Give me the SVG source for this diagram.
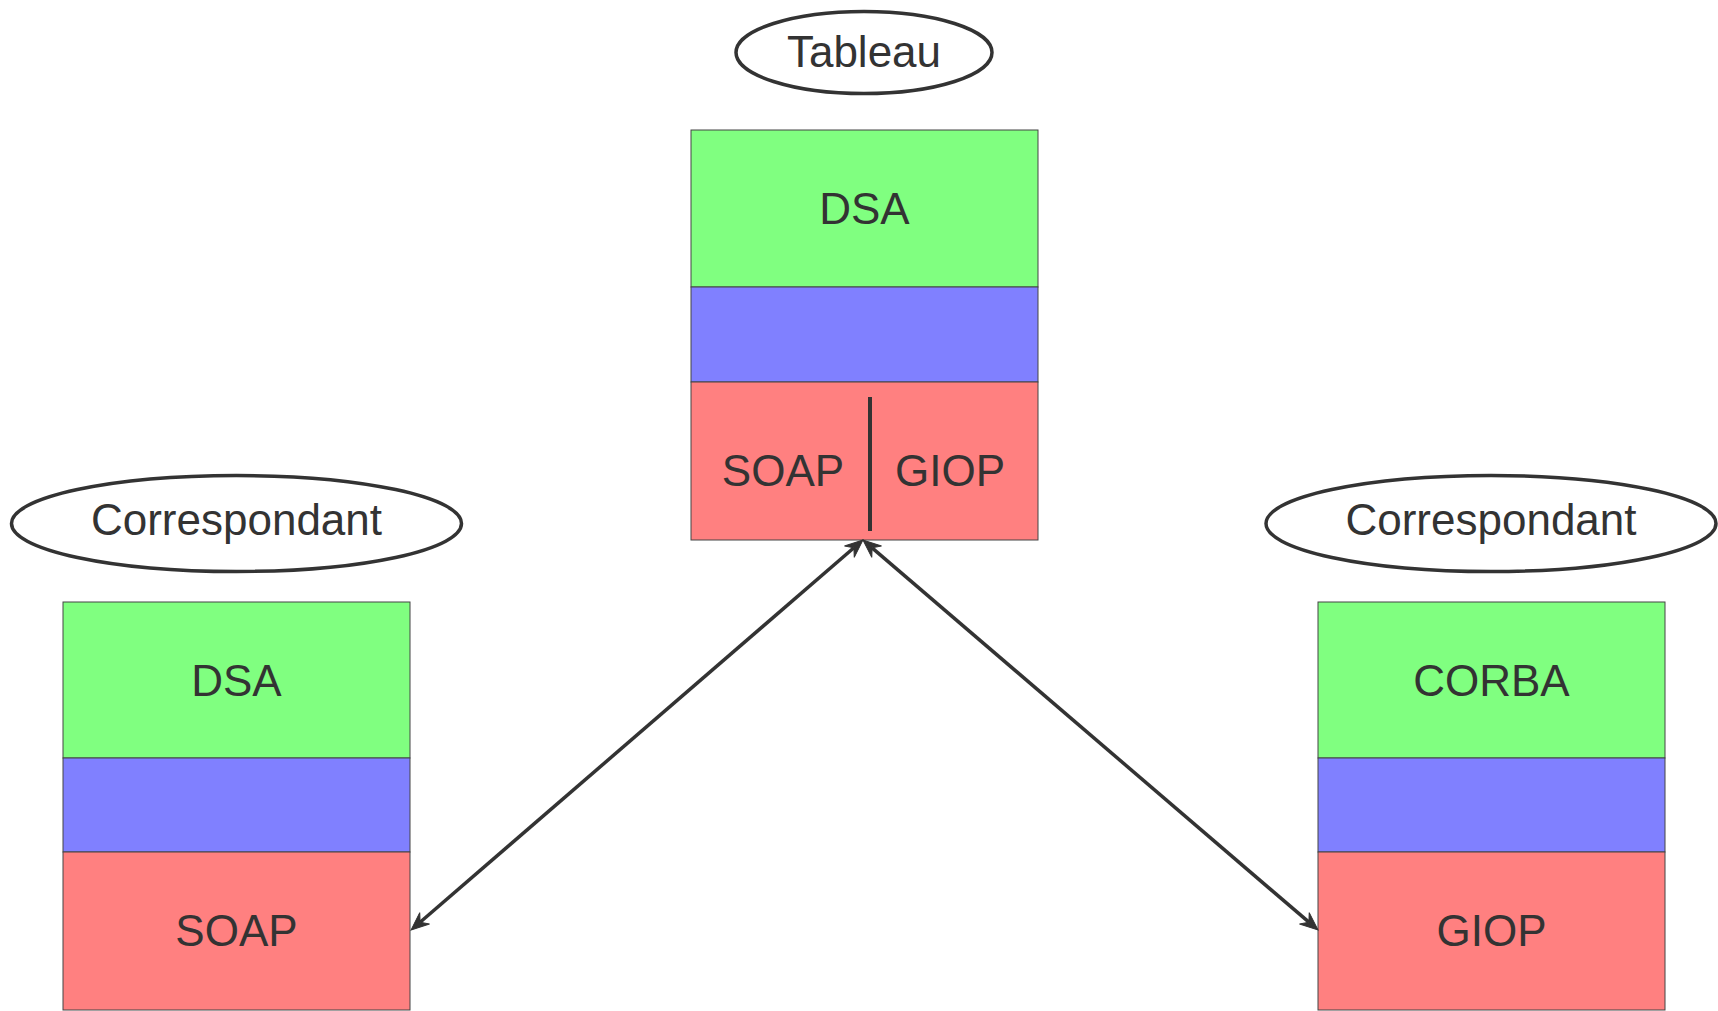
<svg xmlns="http://www.w3.org/2000/svg" width="1718" height="1011" viewBox="0 0 1718 1011">
<style>
text{font-family:"Liberation Sans",Arial,sans-serif;font-size:44px;fill:#333;text-anchor:middle}
.ell{fill:#fff;stroke:#333;stroke-width:3.5}
.g{fill:#80ff80;stroke:#444;stroke-width:1}
.b{fill:#8080ff;stroke:#444;stroke-width:1}
.r{fill:#ff8080;stroke:#444;stroke-width:1}
.conn{stroke:#333;stroke-width:3.5;fill:none}
</style>
<defs>
<marker id="arr" markerUnits="userSpaceOnUse" markerWidth="40" markerHeight="40" refX="0" refY="0" orient="auto-start-reverse" overflow="visible">
<path d="M12,0 L-6,-7.5 L0,0 L-6,7.5 Z" fill="#333" stroke="#333" stroke-width="1"/>
</marker>
</defs>
<g id="tableau-label">
<ellipse class="ell" cx="864" cy="52.5" rx="128" ry="41"/>
<text x="864" y="67">Tableau</text>
</g>
<g id="tableau-stack">
<rect class="g" x="691" y="130" width="347" height="157"/>
<rect class="b" x="691" y="287" width="347" height="95"/>
<rect class="r" x="691" y="382" width="347" height="158"/>
<text x="864.5" y="224">DSA</text>
<text x="783" y="486">SOAP</text>
<text x="950" y="486">GIOP</text>
<line x1="870" y1="397" x2="870" y2="531" stroke="#333" stroke-width="4"/>
</g>
<g id="left-label">
<ellipse class="ell" cx="236.5" cy="523.5" rx="225" ry="48"/>
<text x="236.5" y="535">Correspondant</text>
</g>
<g id="left-stack">
<rect class="g" x="63" y="602" width="347" height="156"/>
<rect class="b" x="63" y="758" width="347" height="94"/>
<rect class="r" x="63" y="852" width="347" height="158"/>
<text x="236.5" y="696">DSA</text>
<text x="236.5" y="946">SOAP</text>
</g>
<g id="right-label">
<ellipse class="ell" cx="1491" cy="523.5" rx="225" ry="48"/>
<text x="1491" y="535">Correspondant</text>
</g>
<g id="right-stack">
<rect class="g" x="1318" y="602" width="347" height="156"/>
<rect class="b" x="1318" y="758" width="347" height="94"/>
<rect class="r" x="1318" y="852" width="347" height="158"/>
<text x="1491.5" y="696">CORBA</text>
<text x="1491.5" y="946">GIOP</text>
</g>
<g id="connectors">
<line class="conn" x1="853.9" y1="547.8" x2="420.1" y2="922.2" marker-start="url(#arr)" marker-end="url(#arr)"/>
<line class="conn" x1="872.1" y1="547.8" x2="1308.9" y2="922.2" marker-start="url(#arr)" marker-end="url(#arr)"/>
</g>
</svg>
